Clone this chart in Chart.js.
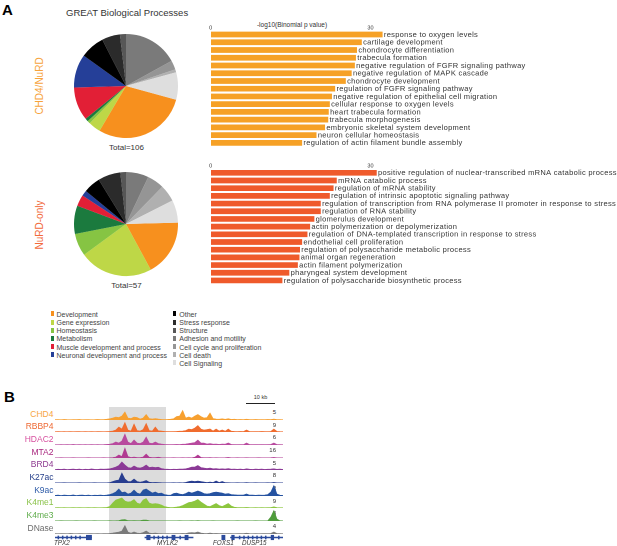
<!DOCTYPE html>
<html>
<head>
<meta charset="utf-8">
<script src="https://cdn.jsdelivr.net/npm/chart.js@4.4.1/dist/chart.umd.min.js"></script>
<style>
  body { margin: 0; background: #fff; font-family: "Liberation Sans", Arial, sans-serif; color: #333; }
  #fig { position: relative; width: 617px; height: 546px; overflow: hidden; }
  .t { position: absolute; white-space: nowrap; line-height: 1; -webkit-font-smoothing: antialiased; }
  canvas { position: absolute; }
</style>
</head>
<body>
<div id="fig"></div>
<script>
// ── Panel A: GREAT categories ──
const categories = ['Development', 'Gene expression', 'Homeostasis', 'Metabolism',
  'Muscle development and process', 'Neuronal development and process', 'Other',
  'Stress response', 'Structure', 'Adhesion and motility', 'Cell cycle and proliferation',
  'Cell death', 'Cell Signaling'];
const categoryColors = ['#f7901e', '#bed747', '#86c443', '#1b7a3e', '#e21f36', '#253f98', '#000000',
  '#2b2b2b', '#575757', '#7a7a7a', '#959595', '#b0b0b0', '#dedede'];
const chd4NurdCounts = [31, 4, 1, 1, 11, 11, 8, 6, 2, 18, 3, 1, 9];
const nurdOnlyCounts = [10, 13, 4, 5, 2, 1, 3, 4, 1, 4, 3, 3, 4];

const chd4NurdTerms = ['response to oxygen levels', 'cartilage development', 'chondrocyte differentiation',
  'trabecula formation', 'negative regulation of FGFR signaling pathway', 'negative regulation of MAPK cascade',
  'chondrocyte development', 'regulation of FGFR signaling pathway', 'negative regulation of epithelial cell migration',
  'cellular response to oxygen levels', 'heart trabecula formation', 'trabecula morphogenesis',
  'embryonic skeletal system development', 'neuron cellular homeostasis', 'regulation of actin filament bundle assembly'];
const chd4NurdLogP = [32.2, 28.3, 27.4, 27.2, 27.0, 26.4, 25.3, 23.3, 22.7, 22.3, 22.1, 22.0, 21.4, 19.8, 17.1];

const nurdOnlyTerms = ['positive regulation of nuclear-transcribed mRNA catabolic process', 'mRNA catabolic process',
  'regulation of mRNA stability', 'regulation of intrinsic apoptotic signaling pathway',
  'regulation of transcription from RNA polymerase II promoter in response to stress', 'regulation of RNA stability',
  'glomerulus development', 'actin polymerization or depolymerization',
  'regulation of DNA-templated transcription in response to stress', 'endothelial cell proliferation',
  'regulation of polysaccharide metabolic process', 'animal organ regeneration', 'actin filament polymerization',
  'pharyngeal system development', 'regulation of polysaccharide biosynthetic process'];
const nurdOnlyLogP = [31.1, 23.6, 23.0, 22.3, 20.6, 20.6, 19.4, 18.6, 18.1, 17.1, 16.7, 16.6, 16.3, 14.7, 13.4];
const xTickValues = [0, 30];

// ── Panel B: browser tracks ──
const trackNames = ['CHD4', 'RBBP4', 'HDAC2', 'MTA2', 'BRD4', 'K27ac', 'K9ac', 'K4me1', 'K4me3', 'DNase'];
const trackScaleMax = [5, 9, 6, 16, 5, 8, 3, 9, 8, 4];

const chd4Signal = [0.4,0.5,0.3,0.6,0.4,0.3,0.5,0.4,0.6,0.3,0.4,0.5,0.3,0.4,0.6,0.4,0.5,0.8,1.2,
  2,3,2.5,4,8,2,1.5,3,2.5,1,2,5.5,1.5,1,1.5,1,0.6,0.5,0.6,
  0.8,1.2,3.5,4,9.5,2,3,2,4,5.5,3.5,2,2.5,7,1.5,1,0.8,1.2,0.7,
  1.3,0.6,0.8,0.5,0.6,0.4,0.8,0.5,0.4,0.6,0.4,0.5,0.4,0.6,0.5,1,0.4,0.5,0.3];
const rbbp4Signal = [0.3,0.4,0.3,0.5,0.3,0.4,0.3,0.4,0.5,0.3,0.4,0.3,0.4,0.3,0.5,0.4,0.3,0.5,0.6,
  1,2,5,3,9.5,2,1,8,1.5,1,2.5,8.5,1.5,1,5,1.2,1,0.6,0.5,
  0.4,0.5,0.6,0.8,1,1.5,3,2.5,4,6.5,3,2,2.5,3,1,3,1,2,0.8,
  3,0.8,0.6,0.5,0.6,0.5,2,0.5,0.4,0.5,0.4,0.6,0.5,0.4,0.6,3,0.6,0.4,0.3];
const hdac2Signal = [0.3,0.3,0.5,0.3,0.4,0.3,0.6,0.3,0.4,0.3,0.5,0.3,0.4,0.3,0.5,0.3,0.4,0.6,0.8,
  1.5,3,2,4,11,3,1.5,5,2,1.5,3,8,2,1.5,3,1.5,1,0.6,0.5,
  0.4,0.5,0.6,0.5,0.8,1,1.5,2,2.5,5,2,2,1,1.5,0.8,1,0.6,1,0.8,
  2,0.6,0.5,0.4,0.5,0.4,2,0.5,0.4,0.5,0.4,0.5,0.4,0.5,0.6,2,0.5,0.4,0.3];
const mta2Signal = [0.2,0.2,0.3,0.2,0.2,0.2,0.3,0.2,0.2,0.2,0.2,0.3,0.2,0.2,0.2,0.2,0.3,0.2,0.3,
  0.5,1,3,1.5,10,1.5,0.5,1,0.5,0.4,1,4,0.8,0.4,0.5,0.8,0.3,0.2,0.2,
  0.2,0.3,0.2,0.2,0.3,0.2,0.3,0.2,0.8,3,0.6,0.3,0.3,0.5,0.2,0.3,0.2,0.2,0.3,
  0.6,0.2,0.2,0.3,0.2,0.2,0.3,0.2,0.2,0.2,0.3,0.2,0.2,0.2,0.3,0.6,0.2,0.2,0.2];
const brd4Signal = [0.5,0.8,0.6,1,0.5,0.7,0.9,0.6,1,0.5,0.8,0.6,1.1,0.7,0.6,0.9,0.8,1,1.2,
  2,3,4.5,8,5,2.5,2,4,2.5,2,3,5,2.5,3,2.5,2.8,1.5,1,0.8,
  0.6,0.8,0.7,1,0.9,1.2,2,3,3,4.5,2.5,2,1.5,2,1.2,1.5,1,1.2,0.9,
  1.5,0.8,1,0.7,0.9,0.6,1.2,0.8,0.6,0.9,0.7,1,0.6,0.8,0.9,1.2,0.7,0.9,0.6];
const k27acSignal = [0.2,0.2,0.2,0.3,0.2,0.2,0.2,0.2,0.3,0.2,0.2,0.2,0.2,0.3,0.2,0.2,0.2,0.2,0.4,
  1.5,2.5,3,10,4,1.5,1.5,4,1.5,0.8,1.5,2.5,0.8,0.5,0.6,0.5,0.3,0.2,0.2,
  0.2,0.3,0.2,0.3,0.2,0.6,1.5,2,1.5,2,1.5,1,0.5,1,0.5,2,0.5,1.5,0.4,
  0.3,0.2,0.2,0.3,0.2,0.2,0.5,0.2,0.2,0.3,0.2,0.2,0.2,0.3,0.2,0.6,0.2,0.2,0.2];
const k9acSignal = [0.6,0.9,0.5,1,0.7,0.6,1.1,0.5,0.8,0.9,0.6,1,0.5,0.8,0.7,1,0.6,0.9,1.5,
  2.5,4,7,3.5,4,2,3,6,3,2,6,7,5,3,4,2.5,3,1.5,1,
  0.8,2.5,3,2,1.5,2.5,4,3,4,5,4,2.5,2,2.5,3.5,4,3.5,3,2,
  2.5,1.5,1.2,1,0.9,1,2,0.9,1,0.7,1,0.8,1,1.5,4,10.5,2,0.8,0.6];
const k4me1Signal = [0.3,0.4,0.3,0.5,0.3,0.3,0.4,0.3,0.4,0.3,0.3,0.4,0.3,0.4,0.3,0.3,0.5,0.6,1.5,
  5,8,9,10,7,6,6.5,8.5,5,4,8,9.5,5,4,4.5,4,3,1.5,0.8,
  0.5,0.6,1,1.5,2.5,4,5.5,6,7,8.5,6,4,2,1.5,3,4.5,2.5,1.5,3,
  4.5,2,0.8,0.5,0.5,0.4,0.6,0.4,0.3,0.4,0.3,0.4,0.3,0.4,0.5,1.2,0.4,0.3,0.3];
const k4me3Signal = [0.2,0.2,0.3,0.2,0.2,0.2,0.2,0.3,0.2,0.2,0.2,0.2,0.2,0.3,0.2,0.2,0.2,0.2,0.3,
  0.2,0.3,0.5,1.2,1.5,0.4,0.3,0.4,0.3,0.3,1,1,0.3,0.2,0.2,0.2,0.2,0.2,0.2,
  0.2,0.2,0.2,0.3,0.2,0.2,0.2,0.3,0.2,0.5,0.2,0.2,0.2,0.2,0.3,0.2,0.2,0.2,0.2,
  0.2,0.2,0.2,0.3,0.2,0.2,0.2,0.2,0.2,0.3,0.2,0.2,0.2,0.3,4,10.5,2,0.3,0.2];
const dnaseSignal = [0.4,0.3,0.5,0.4,0.3,0.6,0.4,0.3,0.5,0.4,0.3,0.4,0.5,0.3,0.4,0.3,0.5,0.4,0.6,
  1,1.5,2,3,8.5,2,0.8,2,1,0.6,1.5,3,1,0.6,1,0.5,0.4,0.3,0.4,
  0.3,0.4,0.5,0.4,0.6,0.5,1.2,1.5,1.2,2,1,0.6,0.5,1,0.5,0.6,0.4,0.5,0.4,
  0.5,0.4,0.3,0.4,0.5,0.4,0.8,0.4,0.3,0.4,0.3,0.4,0.5,0.4,0.6,2,0.5,0.4,0.3];
const trackSignals = [chd4Signal, rbbp4Signal, hdac2Signal, mta2Signal, brd4Signal,
  k27acSignal, k9acSignal, k4me1Signal, k4me3Signal, dnaseSignal];

// gene annotation, kb from left edge of window
const regionKb = 78.6;
const geneNames = ['TPX2', 'MYLK2', 'FOXS1', 'DUSP15'];
const geneSpansKb = [[0, 12.6], [31, 47.6], [60.5, 78.6]];
const exonSpansKb = [[10.8, 12.6], [31.6, 32.8], [40.3, 41.4], [44.8, 45.9], [57.5, 58.6], [60.9, 61.8], [74.5, 75.4]];
const intronTicksKb = [1, 2.5, 4, 5.5, 7, 8.5, 34, 35.5, 37, 38.5, 43, 63.5, 65, 66.5, 68, 69.5, 71, 72.5, 77];

// ── style ──
const FONT = '"Liberation Sans", Arial, sans-serif';
const trackColors = ['#f7a030', '#f06c2e', '#b84a9e', '#b13a92', '#8b3a96', '#283d8f', '#2552a0', '#8dc63f', '#4f9c3c', '#7a7a7a'];
const trackLabelColors = ['#f7a53f', '#ee6a34', '#d7509f', '#a8267e', '#8e3b91', '#27408b', '#2f5ca8', '#8bc34a', '#5fac4b', '#6d6d6d'];
const geneColor = '#2b4a9c';

Chart.defaults.animation = false;
Chart.defaults.responsive = false;
Chart.defaults.devicePixelRatio = 2;
Chart.defaults.plugins.legend.display = false;
Chart.defaults.plugins.tooltip.enabled = false;

const fig = document.getElementById('fig');

function text(str, x, y, o = {}) {
  const d = document.createElement('div');
  d.className = 't';
  d.textContent = str;
  d.style.left = x + 'px';
  d.style.top = y + 'px';
  d.style.fontSize = (o.size || 8) + 'px';
  d.style.color = o.color || '#333';
  if (o.bold) d.style.fontWeight = 'bold';
  if (o.italic) d.style.fontStyle = 'italic';
  const tx = o.align === 'right' ? '-100%' : o.align === 'center' ? '-50%' : '0';
  d.style.transform = `translate(${tx},-50%)` + (o.rotate ? ` rotate(${o.rotate}deg)` : '');
  fig.appendChild(d);
  return d;
}

function box(x, y, w, h, bg) {
  const d = document.createElement('div');
  d.style.cssText = `position:absolute;left:${x}px;top:${y}px;width:${w}px;height:${h}px;background:${bg}`;
  fig.appendChild(d);
}

function canvasAt(x, y, w, h) {
  const c = document.createElement('canvas');
  c.width = w; c.height = h;
  c.style.left = x + 'px'; c.style.top = y + 'px';
  c.style.width = w + 'px'; c.style.height = h + 'px';
  fig.appendChild(c);
  return c.getContext('2d');
}

// ────────────────────────────────────────────
// Panel A – labels
// ────────────────────────────────────────────
text('A', 2, 9, { size: 15, bold: true, color: '#000' });
text('GREAT Biological Processes', 66, 13, { size: 9.5 });
text('CHD4/NuRD', 40, 86, { size: 10, color: '#f7a33b', align: 'center', rotate: -90 });
text('NuRD-only', 40, 224.5, { size: 10, color: '#f26a3a', align: 'center', rotate: -90 });
text('Total=106', 126.5, 147.5, { size: 8, align: 'center' });
text('Total=57', 126.5, 286, { size: 8, align: 'center' });

// ── Pies ──
function drawPie(x, y, counts) {
  const ctx = canvasAt(x, y, 112, 112);
  const total = counts.reduce((a, b) => a + b, 0);
  const topGreys = counts.slice(9).reduce((a, b) => a + b, 0);
  new Chart(ctx, {
    type: 'pie',
    data: { labels: categories, datasets: [{ data: counts, backgroundColor: categoryColors, borderWidth: 0 }] },
    options: { rotation: 360 * topGreys / total, layout: { padding: 4 } }
  });
}
drawPie(70, 30, chd4NurdCounts);
drawPie(70, 168, nurdOnlyCounts);

// ── Legend ──
const legendRowsY = [313.7, 322, 330.2, 338.3, 346.5, 354.6, 362.8];
categories.forEach((name, i) => {
  const left = i < 6;
  const row = left ? i : i - 6;
  const sx = left ? 50.5 : 173.3;
  box(sx, legendRowsY[row] - 2.5, 3, 5, categoryColors[i]);
  text(name, sx + 6, legendRowsY[row], { size: 7, color: '#444' });
});

// ── Bar charts ──
const barLabels = {
  id: 'barLabels',
  afterDatasetsDraw(chart) {
    const { ctx, chartArea } = chart;
    const meta = chart.getDatasetMeta(0);
    ctx.save();
    ctx.fillStyle = '#333';
    ctx.textBaseline = 'middle';
    ctx.font = `7.5px ${FONT}`;
    ctx.letterSpacing = '0.3px';
    meta.data.forEach((bar, i) => ctx.fillText(chart.data.labels[i], bar.x + 1.3, bar.y + 0.3));
    ctx.letterSpacing = '0px';
    ctx.font = `5.5px ${FONT}`;
    ctx.textAlign = 'center';
    xTickValues.forEach(v => ctx.fillText(String(v), chart.scales.x.getPixelForValue(v) - 0.4, chartArea.top - 2.8));
    ctx.restore();
  }
};

function drawBars(top, height, padTop, padBottom, terms, values, color) {
  const ctx = canvasAt(200, top, 417, height);
  new Chart(ctx, {
    type: 'bar',
    data: { labels: terms, datasets: [{ data: values, backgroundColor: color, barPercentage: 0.74, categoryPercentage: 1 }] },
    options: {
      indexAxis: 'y',
      layout: { padding: { left: 11, right: 1, top: padTop, bottom: padBottom } },
      scales: {
        x: { display: false, min: 0, max: 76 },
        y: { display: false }
      }
    },
    plugins: [barLabels]
  });
}
text('-log10(Binomial p value)', 292, 25, { size: 6.5, align: 'center' });
drawBars(20, 135, 10.64, 8.26, chd4NurdTerms, chd4NurdLogP, '#f6a126');
drawBars(150, 145, 18.95, 10.7, nurdOnlyTerms, nurdOnlyLogP, '#ef5a2b');

// ────────────────────────────────────────────
// Panel B – browser view
// ────────────────────────────────────────────
text('B', 4, 396, { size: 15, bold: true, color: '#000' });
box(109, 406.7, 57, 127, '#dcdcdc');

// scale bar (10 kb)
const pxPerKb = 228 / regionKb;
box(246, 402.6, 10 * pxPerKb, 0.8, '#222');
text('10 kb', 246 + 5 * pxPerKb, 398, { size: 5.5, align: 'center' });

const trackBaseline = i => 419.5 + 12.7 * i;
trackNames.forEach((name, i) => {
  const base = trackBaseline(i);
  text(name, 53.5, base - 6, { size: 8.5, color: trackLabelColors[i], align: 'right' });
  text(String(trackScaleMax[i]), 276, base - 7.7, { size: 6, align: 'right' });

  const ctx = canvasAt(55, base - 12, 228, 13);
  const signal = trackSignals[i];
  new Chart(ctx, {
    type: 'line',
    data: {
      labels: signal.map((_, k) => k),
      datasets: [{
        data: signal,
        fill: 'origin',
        backgroundColor: trackColors[i],
        borderColor: trackColors[i],
        borderWidth: 0.6,
        pointRadius: 0,
        tension: 0
      }]
    },
    options: {
      layout: { padding: { bottom: 1 } },
      scales: {
        x: { display: false },
        y: { display: false, min: 0, max: 12 }
      }
    }
  });
});

// gene track
(function () {
  const ctx = canvasAt(55, 534, 228, 7);
  const row = 'genes';
  new Chart(ctx, {
    type: 'bar',
    data: {
      labels: [row],
      datasets: [
        { data: geneSpansKb.map(s => ({ x: s, y: row })), backgroundColor: geneColor, barThickness: 0.8, grouped: false },
        { data: intronTicksKb.map(k => ({ x: [k, k + 0.3], y: row })), backgroundColor: geneColor, barThickness: 3, grouped: false },
        { data: exonSpansKb.map(s => ({ x: s, y: row })), backgroundColor: geneColor, barThickness: 4.5, grouped: false }
      ]
    },
    options: {
      indexAxis: 'y',
      scales: {
        x: { display: false, type: 'linear', min: 0, max: regionKb },
        y: { display: false }
      }
    }
  });
})();

const geneLabelX = [54, 157, 213, 242];
geneNames.forEach((g, i) => text(g, geneLabelX[i], 542.5, { size: 6.3, italic: true }));
</script>
</body>
</html>
